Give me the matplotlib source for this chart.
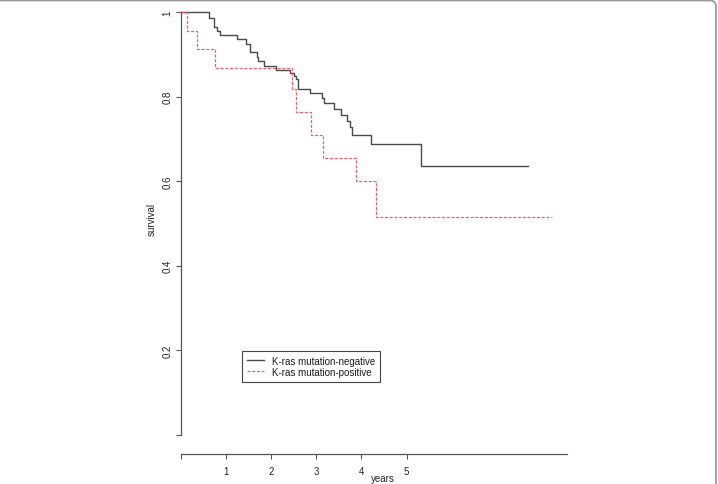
import matplotlib
matplotlib.use("Agg")
import matplotlib.pyplot as plt
from matplotlib.patches import FancyBboxPatch
from matplotlib.transforms import IdentityTransform

plt.rcParams['font.family'] = ['Liberation Sans', 'DejaVu Sans']

# ---- data ----
neg_times = [0, 0.64, 0.75, 0.81, 0.88, 1.26, 1.44, 1.54, 1.69, 1.72, 1.85, 2.11,
             2.43, 2.50, 2.56, 2.60, 2.86, 3.12, 3.17, 3.39, 3.54, 3.69, 3.75,
             3.79, 4.22, 5.31]
neg_surv = [1.0, 0.985, 0.965, 0.955, 0.945, 0.935, 0.924, 0.905, 0.894, 0.884,
            0.872, 0.864, 0.856, 0.849, 0.841, 0.818, 0.808, 0.796, 0.784, 0.771,
            0.757, 0.743, 0.729, 0.710, 0.688, 0.635]
neg_end = 7.68

pos_times = [0, 0.14, 0.36, 0.76, 2.47, 2.55, 2.88, 3.15, 3.88, 4.32]
pos_surv = [1.0, 0.956, 0.913, 0.867, 0.818, 0.764, 0.709, 0.655, 0.601, 0.516]
pos_end = 8.21

labels = ["K-ras mutation-negative", "K-ras mutation-positive"]
xticks = [0, 1, 2, 3, 4, 5]
xticklabels = ["", "1", "2", "3", "4", "5"]
yticks = [0, 0.2, 0.4, 0.6, 0.8, 1.0]
yticklabels = ["", "0.2", "0.4", "0.6", "0.8", "1"]

W, H = 718, 485
fig = plt.figure(figsize=(W / 100, H / 100), dpi=100)

# axes in pixel geometry: x px = 180.5 + 45.2*t ; y px(top) = 436 - 423*S
ax_l, ax_r, ax_t, ax_b = 150, 700, 5, 470
ax = fig.add_axes([ax_l / W, 1 - ax_b / H, (ax_r - ax_l) / W, (ax_b - ax_t) / H])
ax.set_xlim((ax_l - 180.5) / 45.2, (ax_r - 180.5) / 45.2)
ax.set_ylim((436 - ax_b) / 423, (436 - ax_t) / 423)

black = '#4a4a4a'
red = '#e8606e'
ax.step(neg_times + [neg_end], neg_surv + [neg_surv[-1]], where='post',
        color=black, lw=1.0, label=labels[0])
ax.step(pos_times + [pos_end], pos_surv + [pos_surv[-1]], where='post',
        color=red, lw=0.9, linestyle=(0, (2.5, 1.3)), label=labels[1])

axcol = '#555555'
for s in ['top', 'right']:
    ax.spines[s].set_visible(False)
ax.spines['left'].set_position(('data', 0))
ax.spines['left'].set_bounds(0, 1)
ax.spines['bottom'].set_position(('data', (436 - 455) / 423))
ax.spines['bottom'].set_bounds(0, (567 - 180.5) / 45.2)
for s in ['left', 'bottom']:
    ax.spines[s].set_color(axcol)
    ax.spines[s].set_linewidth(0.9)

ax.set_xticks(xticks)
ax.set_xticklabels(xticklabels)
ax.set_yticks(yticks)
ax.set_yticklabels(yticklabels, rotation=90, va='center')
ax.tick_params(axis='both', direction='out', length=3.5, width=0.8, color=axcol,
               labelsize=7, labelcolor='#222222')
ax.tick_params(axis='x', pad=5)
ax.tick_params(axis='y', pad=2.5)

fig.text(152 / W, 1 - 220 / H, "survival", rotation=90, ha='center', va='center',
         fontsize=7, color='#222222')
fig.text(383 / W, 1 - 484.5 / H, "years", ha='center', va='bottom',
         fontsize=7, color='#222222')

leg = ax.legend(loc='upper left', bbox_to_anchor=(241.7 / W, 1 - 351.7 / H),
                bbox_transform=fig.transFigure, borderaxespad=0, fancybox=False,
                edgecolor='#444444', framealpha=1, fontsize=7, handlelength=1.8,
                handletextpad=0.8, borderpad=0.5, labelspacing=0.12)
leg.get_frame().set_linewidth(0.8)
for t in leg.get_texts():
    t.set_color('#1a1a1a')

# outer frame of the image (top and right edges with rounded corner)
frame = FancyBboxPatch((-20, -20), 736, 503.5, boxstyle='round,pad=0,rounding_size=6',
                       transform=IdentityTransform(), facecolor='none',
                       edgecolor='#9a9a9a', lw=1.3, clip_on=False)
fig.add_artist(frame)

fig.savefig("out.png", dpi=100)
